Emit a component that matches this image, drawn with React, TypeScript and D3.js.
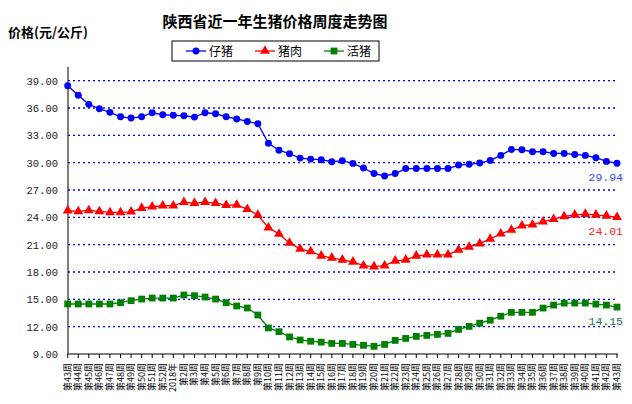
import { useEffect, useRef } from "react";
import * as d3 from "d3";

const weeks = [
  "第43周", "第44周", "第45周", "第46周", "第47周", "第48周", "第49周", "第50周", "第51周", "第52周",
  "2018年", "第2周", "第3周", "第4周", "第5周", "第6周", "第7周", "第8周", "第9周", "第10周",
  "第11周", "第12周", "第13周", "第14周", "第15周", "第16周", "第17周", "第18周", "第19周", "第20周",
  "第21周", "第22周", "第23周", "第24周", "第25周", "第26周", "第27周", "第28周", "第29周", "第30周",
  "第31周", "第32周", "第33周", "第34周", "第35周", "第36周", "第37周", "第38周", "第39周", "第40周",
  "第41周", "第42周", "第43周",
];

// 仔猪
const piglet = [
  38.45, 37.4, 36.4, 35.92, 35.52, 35.04, 34.9, 35.04, 35.48, 35.26,
  35.2, 35.15, 35.0, 35.48, 35.37, 35.04, 34.8, 34.52, 34.27, 32.13,
  31.37, 30.98, 30.5, 30.39, 30.33, 30.1, 30.22, 29.92, 29.41, 28.8,
  28.54, 28.8, 29.35, 29.35, 29.35, 29.35, 29.35, 29.74, 29.82, 29.96,
  30.25, 30.8, 31.45, 31.41, 31.2, 31.2, 31.01, 31.01, 30.9, 30.8,
  30.54, 30.14, 29.94,
];

// 猪肉
const pork = [
  24.72, 24.65, 24.77, 24.65, 24.55, 24.55, 24.61, 25.02, 25.16, 25.27,
  25.27, 25.67, 25.56, 25.67, 25.56, 25.34, 25.36, 24.9, 24.25, 22.87,
  22.17, 21.19, 20.54, 20.25, 19.78, 19.56, 19.34, 19.12, 18.69, 18.6,
  18.69, 19.23, 19.34, 19.78, 19.89, 19.89, 19.89, 20.43, 20.76, 21.12,
  21.63, 22.2, 22.61, 23.08, 23.19, 23.52, 23.81, 24.1, 24.28, 24.36,
  24.28, 24.17, 24.01,
];

// 活猪
const hog = [
  14.49, 14.49, 14.49, 14.49, 14.49, 14.63, 14.85, 15.03, 15.14, 15.14,
  15.14, 15.47, 15.4, 15.25, 15.03, 14.63, 14.27, 14.05, 13.28, 11.86,
  11.45, 10.87, 10.54, 10.4, 10.3, 10.16, 10.16, 10.05, 9.95, 9.84,
  10.05, 10.49, 10.71, 10.93, 11.04, 11.15, 11.26, 11.7, 12.03, 12.38,
  12.71, 13.15, 13.57, 13.57, 13.57, 14.04, 14.37, 14.59, 14.59, 14.59,
  14.48, 14.37, 14.15,
];

const yTicks = [9, 12, 15, 18, 21, 24, 27, 30, 33, 36, 39];

const cjk = "'Noto Sans CJK SC', sans-serif";
const mono = "'Liberation Mono', 'DejaVu Sans Mono', monospace";

const Chart = () => {
  const ref = useRef<SVGSVGElement | null>(null);

  useEffect(() => {
    if (!ref.current) return;
    const width = 632;
    const height = 404;
    const left = 68;
    const top = 67;
    const bottom = 354;
    const right = 618;

    const svg = d3.select(ref.current);
    svg.selectAll("*").remove();
    svg.attr("width", width).attr("height", height);

    svg.append("rect").attr("width", width).attr("height", height).attr("fill", "#fff");

    const x = d3
      .scalePoint<number>()
      .domain(d3.range(weeks.length))
      .range([67.7, 617]);
    const y = d3.scaleLinear().domain([9, 40.5]).range([bottom, top]);

    // title
    svg
      .append("text")
      .attr("x", 275)
      .attr("y", 27)
      .attr("text-anchor", "middle")
      .attr("font-family", cjk)
      .attr("font-weight", "bold")
      .attr("font-size", 15)
      .text("陕西省近一年生猪价格周度走势图");

    svg
      .append("text")
      .attr("x", 8)
      .attr("y", 37)
      .attr("font-family", cjk)
      .attr("font-weight", "bold")
      .attr("font-size", 13)
      .text("价格(元/公斤)");

    // gridlines
    svg
      .append("g")
      .selectAll("line")
      .data(yTicks.slice(1))
      .join("line")
      .attr("x1", left)
      .attr("x2", 617)
      .attr("y1", (d) => y(d))
      .attr("y2", (d) => y(d))
      .attr("stroke", "#0000ff")
      .attr("stroke-width", 1.3)
      .attr("stroke-dasharray", "2,3");

    // y labels
    svg
      .append("g")
      .selectAll("text")
      .data(yTicks)
      .join("text")
      .attr("x", 58)
      .attr("y", (d) => y(d) + 4)
      .attr("text-anchor", "end")
      .attr("font-family", mono)
      .attr("font-size", 10.5)
      .attr("fill", "#222")
      .text((d) => d.toFixed(2));

    // axes
    svg
      .append("line")
      .attr("x1", left)
      .attr("x2", left)
      .attr("y1", top)
      .attr("y2", bottom)
      .attr("stroke", "#000");
    svg
      .append("line")
      .attr("x1", left)
      .attr("x2", right)
      .attr("y1", bottom)
      .attr("y2", bottom)
      .attr("stroke", "#000")
      .attr("stroke-width", 1.2);
    svg
      .append("g")
      .selectAll("line")
      .data(d3.range(weeks.length))
      .join("line")
      .attr("x1", (d) => x(d)!)
      .attr("x2", (d) => x(d)!)
      .attr("y1", bottom)
      .attr("y2", bottom + 4)
      .attr("stroke", "#000");

    // x labels
    svg
      .append("g")
      .selectAll("text")
      .data(weeks)
      .join("text")
      .attr("transform", (_, i) => `translate(${x(i)! + 3},363) rotate(-90)`)
      .attr("text-anchor", "end")
      .attr("font-family", cjk)
      .attr("font-size", 9)
      .text((d) => d);

    const series = [
      { name: "仔猪", values: piglet, color: "#0000ff", shape: d3.symbolCircle, size: 38, labelColor: "#3344ff" },
      { name: "猪肉", values: pork, color: "#ff0000", shape: d3.symbolTriangle, size: 42, labelColor: "#ff2020" },
      { name: "活猪", values: hog, color: "#008000", shape: d3.symbolSquare, size: 46, labelColor: "#207050" },
    ];

    const line = d3
      .line<number>()
      .x((_, i) => x(i)!)
      .y((d) => y(d));

    series.forEach((s) => {
      const g = svg.append("g");
      g.append("path")
        .attr("d", line(s.values)!)
        .attr("fill", "none")
        .attr("stroke", s.color)
        .attr("stroke-width", 1.3);
      g.selectAll("path.m")
        .data(s.values)
        .join("path")
        .attr("class", "m")
        .attr("transform", (d, i) => `translate(${x(i)},${y(d)})`)
        .attr("d", d3.symbol(s.shape, s.size)()!)
        .attr("fill", s.color);
      const last = s.values[s.values.length - 1];
      g.append("text")
        .attr("x", 623)
        .attr("y", y(last) + 18)
        .attr("text-anchor", "end")
        .attr("font-family", mono)
        .attr("font-size", 11.5)
        .attr("fill", s.labelColor)
        .text(last.toFixed(2));
    });

    // legend
    const lg = svg.append("g");
    lg.append("rect")
      .attr("x", 172)
      .attr("y", 41)
      .attr("width", 207)
      .attr("height", 20)
      .attr("fill", "#fff")
      .attr("stroke", "#000");
    series.forEach((s, i) => {
      const lx = 186 + i * 69;
      lg.append("line")
        .attr("x1", lx)
        .attr("x2", lx + 20)
        .attr("y1", 51)
        .attr("y2", 51)
        .attr("stroke", s.color)
        .attr("stroke-width", 1.3);
      lg.append("path")
        .attr("transform", `translate(${lx + 10},51)`)
        .attr("d", d3.symbol(s.shape, s.size)()!)
        .attr("fill", s.color);
      lg.append("text")
        .attr("x", lx + 23)
        .attr("y", 55.5)
        .attr("font-family", cjk)
        .attr("font-size", 12)
        .text(s.name);
    });
  }, []);

  return <svg ref={ref} style={{ position: "absolute", left: 0, top: 0 }}></svg>;
};

export default function App() {
  return <Chart />;
}
